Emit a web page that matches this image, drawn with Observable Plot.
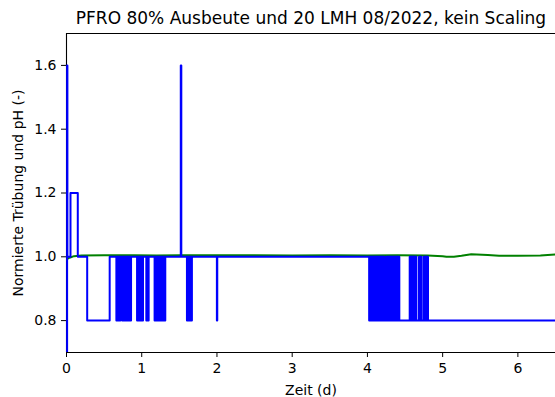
<!DOCTYPE html>
<html>
<head>
<meta charset="utf-8">
<script src="https://cdn.jsdelivr.net/npm/d3@7"></script>
<script src="https://cdn.jsdelivr.net/npm/@observablehq/plot@0.6"></script>
<style>
  html, body { margin: 0; padding: 0; background: white; }
</style>
</head>
<body>
<div id="chart"></div>
<script>
const title = "PFRO 80% Ausbeute und 20 LMH 08/2022, kein Scaling";
const xLabel = "Zeit (d)";
const yLabel = "Normierte Trübung und pH (-)";
const xTicks = [0, 1, 2, 3, 4, 5, 6];
const yTicks = [0.8, 1.0, 1.2, 1.4, 1.6];

// Blue (normalised turbidity): start of record
const blueStart = [[0, 0.5], [0.008, 1.6], [0.012, 1.0]];
// short excursions above 1.0: [start, end, level]
const bluePeaks = [[0.053, 0.150, 1.2], [1.519, 1.526, 1.6]];
// intervals at 0.8 while the baseline is 1.0
const blueDips = [
  [0.275, 0.574],
  [0.663, 0.669], [0.675, 0.681], [0.687, 0.693], [0.699, 0.705], [0.710, 0.716],
  [0.739, 0.745], [0.751, 0.757], [0.763, 0.769], [0.775, 0.781], [0.787, 0.793],
  [0.799, 0.805], [0.811, 0.817], [0.823, 0.829], [0.835, 0.841], [0.847, 0.858],
  [0.938, 0.944], [0.950, 0.956], [0.962, 0.968], [0.974, 0.980], [0.986, 0.992],
  [0.998, 1.004], [1.010, 1.017],
  [1.061, 1.067], [1.073, 1.079], [1.085, 1.092],
  [1.171, 1.177], [1.183, 1.189], [1.195, 1.201], [1.207, 1.213], [1.219, 1.225],
  [1.231, 1.237], [1.243, 1.249], [1.255, 1.261], [1.267, 1.273], [1.279, 1.285],
  [1.291, 1.297], [1.303, 1.313],
  [1.601, 1.607], [1.613, 1.619], [1.625, 1.631], [1.637, 1.643], [1.649, 1.655],
  [1.661, 1.667],
  [1.999, 2.004]
];
// baseline drops to 0.8 here
const blueDropAt = 4.023;
// intervals back at 1.0 while the baseline is 0.8
const blueRises = [
  [4.029, 4.035], [4.041, 4.047], [4.053, 4.059], [4.065, 4.071], [4.077, 4.083],
  [4.089, 4.095], [4.101, 4.107], [4.113, 4.119], [4.125, 4.131], [4.137, 4.143],
  [4.149, 4.155], [4.161, 4.167], [4.173, 4.179], [4.185, 4.191], [4.197, 4.203],
  [4.209, 4.215], [4.221, 4.227], [4.250, 4.256], [4.262, 4.268], [4.274, 4.280],
  [4.286, 4.292], [4.298, 4.304], [4.310, 4.316], [4.322, 4.328], [4.334, 4.340],
  [4.346, 4.352], [4.358, 4.364], [4.370, 4.376], [4.382, 4.388], [4.394, 4.400],
  [4.406, 4.412], [4.418, 4.424],
  [4.562, 4.568], [4.574, 4.580], [4.586, 4.592], [4.598, 4.604], [4.610, 4.616],
  [4.622, 4.628], [4.634, 4.640], [4.645, 4.651],
  [4.686, 4.692], [4.698, 4.704], [4.712, 4.718],
  [4.748, 4.754], [4.760, 4.766], [4.772, 4.778], [4.784, 4.790], [4.798, 4.805]
];
const blueEnd = [[6.5, 0.8]];

// Green (normalised pH)
const greenT = [0, 0.02, 0.05, 0.1, 0.2, 0.5, 0.9, 1.2, 1.5, 2.0, 2.5, 3.0, 3.5, 4.0, 4.4, 4.8, 5.0, 5.05, 5.15, 5.25, 5.38, 5.6, 5.75, 6.0, 6.3, 6.5];
const greenV = [0.990, 0.995, 0.998, 1.002, 1.004, 1.005, 1.005, 1.004, 1.005, 1.005, 1.005, 1.004, 1.005, 1.004, 1.005, 1.004, 1.002, 1.000, 1.000, 1.003, 1.008, 1.006, 1.003, 1.003, 1.004, 1.007];

// Build step table
const ev = [];
blueStart.forEach(([t, v]) => ev.push({t, v}));
bluePeaks.forEach(([s, e, p]) => { ev.push({t: s, v: p}); ev.push({t: e, v: 1.0}); });
blueDips.forEach(([s, e]) => { ev.push({t: s, v: 0.8}); ev.push({t: e, v: 1.0}); });
ev.push({t: blueDropAt, v: 0.8});
blueRises.forEach(([s, e]) => { ev.push({t: s, v: 1.0}); ev.push({t: e, v: 0.8}); });
blueEnd.forEach(([t, v]) => ev.push({t, v}));
ev.sort((a, b) => a.t - b.t);

const green = greenT.map((t, i) => ({t, v: greenV[i]}));

const chart = Plot.plot({
  width: 555,
  height: 397,
  marginLeft: 66,
  marginRight: 0,
  marginTop: 33,
  marginBottom: 45,
  style: {fontFamily: "DejaVu Sans", fontSize: "14px", background: "white", color: "black", overflow: "visible"},
  x: {domain: [0, 6.5]},
  y: {domain: [0.7, 1.7]},
  marks: [
    Plot.ruleX([0], {stroke: "black", strokeWidth: 1.1}),
    Plot.ruleY([0.7, 1.7], {stroke: "black", strokeWidth: 1.1}),
    Plot.lineY(green, {x: "t", y: "v", stroke: "#008000", strokeWidth: 2, clip: true}),
    Plot.lineY(ev, {x: "t", y: "v", curve: "step-after", stroke: "#0000ff", strokeWidth: 2, clip: true}),
    Plot.axisX({ticks: xTicks, tickSize: 5, tickPadding: 6, label: null, tickFormat: d => String(d), fontSize: 14}),
    Plot.axisY({ticks: yTicks, tickSize: 5, tickPadding: 5, label: null, tickFormat: d => d.toFixed(1), fontSize: 14}),
    Plot.text([title], {text: d => d, frameAnchor: "top", dy: -10, lineAnchor: "bottom", fontSize: 17}),
    Plot.text([xLabel], {text: d => d, frameAnchor: "bottom", dy: 42, lineAnchor: "bottom", fontSize: 14}),
    Plot.text([yLabel], {text: d => d, frameAnchor: "left", dx: -53, rotate: -90, lineAnchor: "top", textAnchor: "middle", fontSize: 14})
  ]
});
document.getElementById("chart").appendChild(chart);
</script>
</body>
</html>
